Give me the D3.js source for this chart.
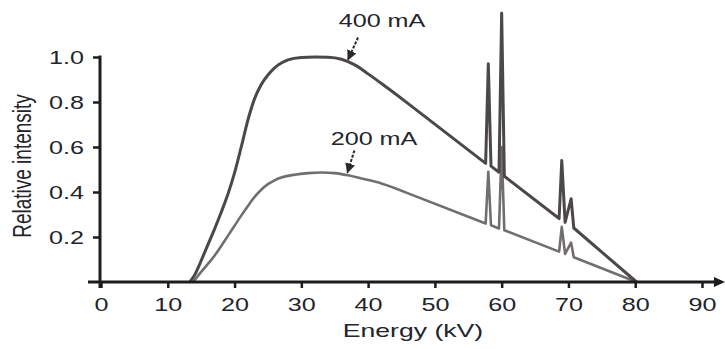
<!DOCTYPE html>
<html><head><meta charset="utf-8">
<script src="https://cdn.jsdelivr.net/npm/d3@7"></script>
<style>html,body{margin:0;padding:0;background:#fff;}svg{display:block;}</style>
</head><body>
<svg id="chart" width="725" height="349"></svg>
<script>
// Energy (kV) and relative intensity for each tube current
const energy400 = [13.3,14,15,16,17,18,19,20,21,22,23,24,25,26,27,28,30,32,34,36,38,40,42,46,57.6,58.0,58.4,59.6,60.0,60.4,68.6,69.0,69.5,70.4,70.8,80.2];
const intensity400 = [0,0.03,0.095,0.165,0.235,0.31,0.39,0.485,0.60,0.72,0.815,0.878,0.92,0.952,0.973,0.987,0.998,1.0,0.999,0.99,0.965,0.925,0.882,0.793,0.527,0.97,0.515,0.488,1.195,0.47,0.282,0.54,0.265,0.37,0.24,0];
const energy200 = [13.8,15,16,17,18,19,20,21,22,23,24,25,26,27,29,31,33,35,37,39,42,46,57.6,58.0,58.4,59.6,60.0,60.4,68.6,69.0,69.5,70.4,70.8,80.2];
const intensity200 = [0,0.045,0.08,0.117,0.16,0.205,0.25,0.295,0.338,0.378,0.41,0.435,0.452,0.464,0.477,0.484,0.487,0.484,0.474,0.46,0.438,0.394,0.26,0.49,0.252,0.238,0.60,0.23,0.135,0.245,0.125,0.175,0.11,0];
const xTicks = [0,10,20,30,40,50,60,70,80,90];
const yTicks = [0.2,0.4,0.6,0.8,1.0];
const seriesLabels = ["400 mA","200 mA"];
const smoothEnd = 46; // continuum is smooth up to here, straight afterwards

const svg = d3.select("#chart");
const SX = 1.4; // horizontal stretch of the original lettering
const x = d3.scaleLinear().domain([0,90]).range([101,702]);
const y = d3.scaleLinear().domain([0,1]).range([282,57]);
const axisColor = "#1c1c1c";
const textColor = "#23242c";

// lines: smooth part + straight part joined in one path
const smooth = d3.line().x(d=>x(d[0])).y(d=>y(d[1])).curve(d3.curveMonotoneX);
const straight = d3.line().x(d=>x(d[0])).y(d=>y(d[1]));
function pathFor(es, vs){
  const pts = es.map((e,i)=>[e,vs[i]]);
  const a = pts.filter(p=>p[0]<=smoothEnd);
  const b = pts.filter(p=>p[0]>=smoothEnd);
  return smooth(a) + straight(b).replace(/^M/,"L");
}
svg.append("path").attr("d",pathFor(energy200,intensity200)).attr("fill","none").attr("stroke","#726e70").attr("stroke-width",2.6).attr("stroke-linejoin","round");
svg.append("path").attr("d",pathFor(energy400,intensity400)).attr("fill","none").attr("stroke","#4c484a").attr("stroke-width",3).attr("stroke-linejoin","round");

// x axis
const gx = svg.append("g").attr("transform",`translate(0,${y(0)})`)
  .call(d3.axisBottom(x).tickValues(xTicks).tickSize(6).tickFormat(d3.format("d")));
gx.select(".domain").remove();
gx.selectAll(".tick line").attr("stroke",axisColor).attr("stroke-width",2.5);
gx.selectAll(".tick text").attr("y",29).attr("dy",0).attr("fill",textColor)
  .style("font-family","Liberation Sans, Arial, sans-serif").style("font-size","18px")
  .attr("transform",`scale(${SX},1)`);
svg.append("line").attr("x1",88).attr("x2",716).attr("y1",y(0)).attr("y2",y(0)).attr("stroke",axisColor).attr("stroke-width",3);
svg.append("path").attr("d",`M714,${y(0)-5}L725,${y(0)}L714,${y(0)+5}Z`).attr("fill",axisColor);

// y axis
const gy = svg.append("g").attr("transform",`translate(${x(0)-1},0)`)
  .call(d3.axisLeft(y).tickValues(yTicks).tickSize(7).tickFormat(d3.format(".1f")));
gy.select(".domain").remove();
gy.selectAll(".tick line").attr("stroke",axisColor).attr("stroke-width",2.5);
gy.selectAll(".tick text").attr("x",-16/SX).attr("dy","0.36em").attr("fill",textColor)
  .style("font-family","Liberation Sans, Arial, sans-serif").style("font-size","18px")
  .attr("transform",`scale(${SX},1)`);
svg.append("line").attr("x1",x(0)-1).attr("x2",x(0)-1).attr("y1",y(1)-1.5).attr("y2",y(0)+6).attr("stroke",axisColor).attr("stroke-width",3);

// axis titles
svg.append("text").attr("transform",`translate(413,337) scale(${SX},1)`).attr("text-anchor","middle")
  .attr("fill",textColor).style("font-family","Liberation Sans, Arial, sans-serif").style("font-size","19px").text("Energy (kV)");
svg.append("text").attr("transform",`translate(31,166) scale(${SX},1) rotate(-90)`).attr("text-anchor","middle")
  .attr("fill",textColor).style("font-family","Liberation Sans, Arial, sans-serif").style("font-size","19px").text("Relative intensity");

// annotations
svg.append("defs").append("marker").attr("id","ah").attr("viewBox","0 0 10 10").attr("refX",9).attr("refY",5)
  .attr("markerWidth",5).attr("markerHeight",5).attr("orient","auto")
  .append("path").attr("d","M0,0L10,5L0,10Z").attr("fill","#2a2a2a");
const ann = [{lab:seriesLabels[0], tx:382, ty:27, e:37.0, v:0.98, dx:10, dy:-22},
             {lab:seriesLabels[1], tx:374, ty:145, e:36.9, v:0.478, dx:7, dy:-22}];
ann.forEach(a=>{
  svg.append("text").attr("transform",`translate(${a.tx},${a.ty}) scale(${SX},1)`).attr("text-anchor","middle")
    .attr("fill",textColor).style("font-family","Liberation Sans, Arial, sans-serif").style("font-size","18px").text(a.lab);
  const px = x(a.e), py = y(a.v)-2;
  svg.append("line").attr("x1",px+a.dx).attr("y1",py+a.dy).attr("x2",px).attr("y2",py)
    .attr("stroke","#2a2a2a").attr("stroke-width",2).attr("stroke-dasharray","3,1.5").attr("marker-end","url(#ah)");
});
</script>
</body></html>
